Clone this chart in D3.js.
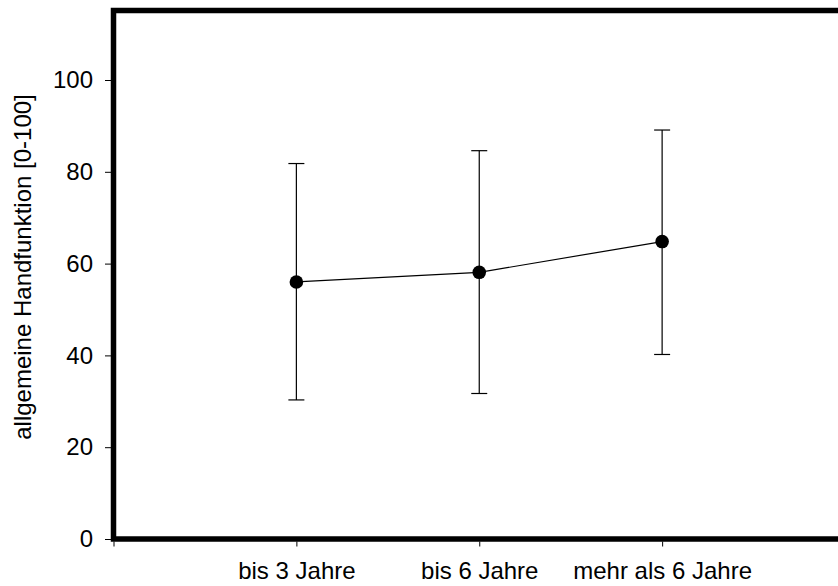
<!DOCTYPE html>
<html><head><meta charset="utf-8">
<script src="https://cdn.jsdelivr.net/npm/d3@7"></script>
<style>body{margin:0;background:#fff}svg{display:block}</style>
</head><body>
<svg id="c" width="838" height="586"></svg>
<script>
const categories = ["bis 3 Jahre", "bis 6 Jahre", "mehr als 6 Jahre"];
const means = [56.0, 58.1, 64.8];
const upper = [81.8, 84.6, 89.1];
const lower = [30.3, 31.7, 40.2];
const yTicks = [0, 20, 40, 60, 80, 100];
const yLabel = "allgemeine Handfunktion [0-100]";

const svg = d3.select("#c");
const font = "'Liberation Sans', Arial, sans-serif";
const fs = 24;
const x = d3.scaleLinear().domain([0, 4]).range([113.5, 845]);
const y = d3.scaleLinear().domain([0, 100]).range([539, 80]);
const yTop = y.invert(10.5);

// frame
svg.append("rect").attr("x", x(0)).attr("y", y(yTop))
  .attr("width", x(4) - x(0)).attr("height", y(0) - y(yTop))
  .attr("fill", "none").attr("stroke", "#000").attr("stroke-width", 5.5);

// y axis
const ya = svg.append("g").attr("transform", `translate(${x(0) - 2.5},0)`)
  .call(d3.axisLeft(y).tickValues(yTicks).tickSize(6).tickPadding(12));
ya.select(".domain").remove();
ya.selectAll("line").attr("stroke", "#000").attr("stroke-width", 1);
ya.selectAll("text").attr("font-family", font).attr("font-size", fs).attr("fill", "#000");

// x axis
const xa = svg.append("g").attr("transform", `translate(0,${y(0) + 2.5})`)
  .call(d3.axisBottom(x).tickValues([0, 1, 2, 3, 4]).tickSize(5).tickPadding(15)
    .tickFormat(d => categories[d - 1] || ""));
xa.select(".domain").remove();
xa.selectAll("line").attr("stroke", "#000").attr("stroke-width", 1);
xa.selectAll("text").attr("font-family", font).attr("font-size", fs).attr("fill", "#000");

// y label
svg.append("text").attr("transform", `translate(31,267) rotate(-90)`)
  .attr("text-anchor", "middle").attr("font-family", font).attr("font-size", fs)
  .attr("fill", "#000").text(yLabel);

const idx = categories.map((c, i) => i);
const g = svg.append("g");
// error bars
idx.forEach(i => {
  const cx = x(i + 1);
  g.append("line").attr("x1", cx).attr("x2", cx).attr("y1", y(upper[i])).attr("y2", y(lower[i]))
    .attr("stroke", "#000").attr("stroke-width", 1.2);
  [upper[i], lower[i]].forEach(v => g.append("line").attr("x1", cx - 8).attr("x2", cx + 8)
    .attr("y1", y(v)).attr("y2", y(v)).attr("stroke", "#000").attr("stroke-width", 1.2));
});
// line
g.append("path").datum(idx)
  .attr("d", d3.line().x(i => x(i + 1)).y(i => y(means[i])))
  .attr("fill", "none").attr("stroke", "#000").attr("stroke-width", 1.2);
// points
g.selectAll("circle").data(idx).join("circle")
  .attr("cx", i => x(i + 1)).attr("cy", i => y(means[i])).attr("r", 6.8).attr("fill", "#000");
</script>
</body></html>
